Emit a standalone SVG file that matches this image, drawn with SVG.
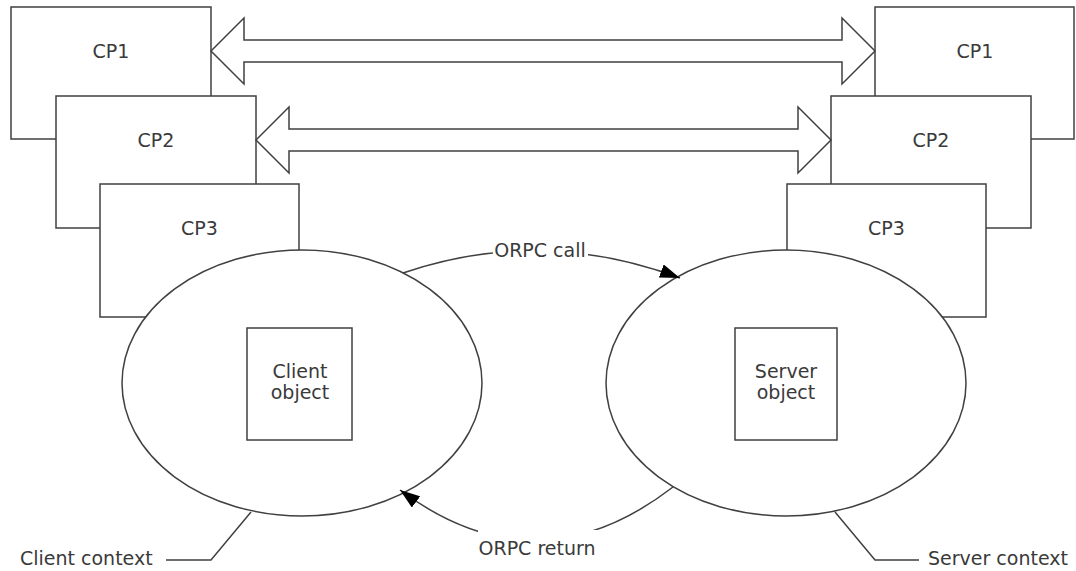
<svg xmlns="http://www.w3.org/2000/svg" width="1076" height="571" viewBox="0 0 1076 571">
<style>
.box{fill:#fff;stroke:#404040;stroke-width:1.5}
.ln{fill:none;stroke:#404040;stroke-width:1.5}
.t{font-family:"DejaVu Sans",Verdana,sans-serif;font-size:19px;fill:#3a3a3a}
.m{text-anchor:middle}
</style>
<defs>
<marker id="ah" viewBox="0 0 20 14" refX="20" refY="7" markerWidth="20" markerHeight="14" markerUnits="userSpaceOnUse" orient="auto">
<path d="M0,0 L20,7 L0,14 Z" fill="#000"/>
</marker>
</defs>
<rect width="1076" height="571" fill="#fff"/>
<g id="client-cp1"><rect class="box" x="11" y="7" width="200" height="132"/><text class="t m" x="111" y="58">CP1</text></g>
<g id="client-cp2"><rect class="box" x="56" y="96" width="200" height="132"/><text class="t m" x="156" y="147">CP2</text></g>
<g id="client-cp3"><rect class="box" x="100" y="184" width="199" height="133"/><text class="t m" x="199.5" y="235">CP3</text></g>
<g id="server-cp1"><rect class="box" x="875" y="7" width="199" height="132"/><text class="t m" x="975" y="58">CP1</text></g>
<g id="server-cp2"><rect class="box" x="831" y="96" width="200" height="132"/><text class="t m" x="931" y="147">CP2</text></g>
<g id="server-cp3"><rect class="box" x="787" y="184" width="199" height="133"/><text class="t m" x="886.5" y="235">CP3</text></g>
<g id="client-context"><ellipse class="box" cx="302" cy="383" rx="180" ry="133"/></g>
<g id="server-context"><ellipse class="box" cx="786" cy="383" rx="180" ry="133"/></g>
<g id="client-object"><rect class="box" x="247" y="328" width="105" height="112"/><text class="t m" x="300" y="378">Client</text><text class="t m" x="300" y="399">object</text></g>
<g id="server-object"><rect class="box" x="735" y="328" width="102" height="112"/><text class="t m" x="786" y="378">Server</text><text class="t m" x="786" y="399">object</text></g>
<g id="connectors">
<polygon class="box" points="211,51 244,18 244,40 842,40 842,18 875,51 842,84 842,62 244,62 244,84"/>
<polygon class="box" points="256,140 289,107 289,129 798,129 798,107 831,140 798,173 798,151 289,151 289,173"/>
<path class="ln" d="M403,273 Q540,226 680,278" marker-end="url(#ah)"/>
<path class="ln" d="M673,487 Q537,592 400,490" marker-end="url(#ah)"/>
<polyline class="ln" points="166,560 211,560 251,512"/>
<polyline class="ln" points="835,512 875,560 919,560"/>
</g>
<g id="labels">
<rect x="493" y="238" width="95" height="24" fill="#fff"/>
<text class="t m" x="540" y="257">ORPC call</text>
<rect x="478" y="530" width="120" height="30" fill="#fff"/>
<text class="t m" x="537" y="555">ORPC return</text>
<text class="t" x="20" y="565">Client context</text>
<text class="t" x="928" y="565">Server context</text>
</g>
</svg>
